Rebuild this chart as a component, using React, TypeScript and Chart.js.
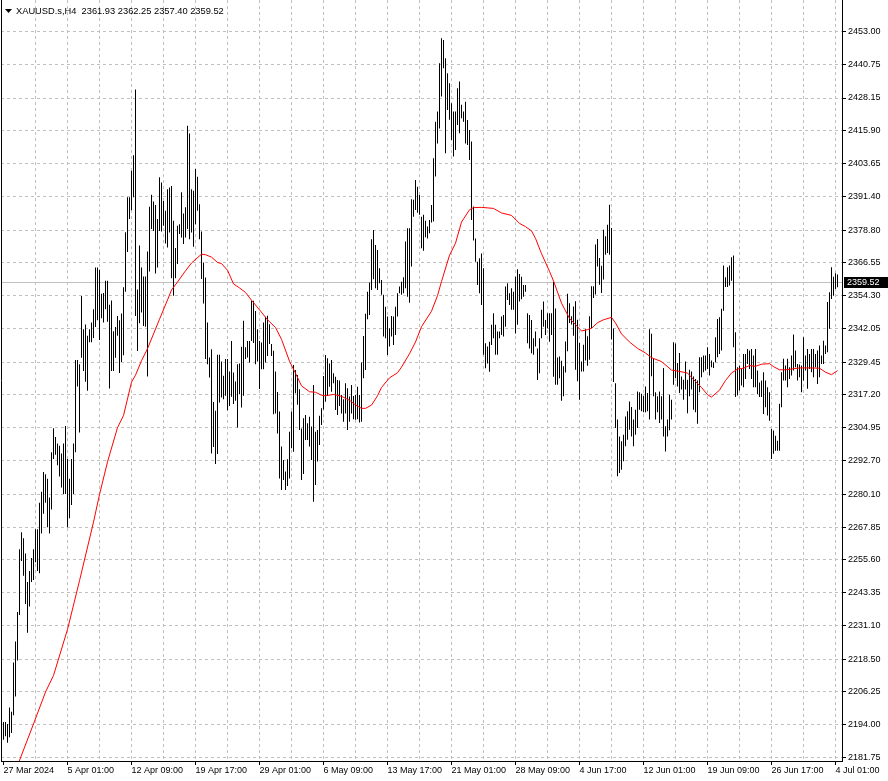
import React, { useEffect, useRef } from 'react';
import { Chart, registerables } from 'chart.js';

Chart.register(...registerables);

const symbolTitle = 'XAUUSD.s,H4';
const lastBarOHLC = [2361.93, 2362.25, 2357.4, 2359.52];
const bidPrice = 2359.52;

const highs = [
  2195.0, 2195.0, 2194.3, 2200.4, 2198.8, 2217.2, 2225.1, 2236.1, 2259.6, 2265.9,
  2263.7, 2258.0, 2247.3, 2251.4, 2256.3, 2259.6, 2267.0, 2267.0, 2276.9, 2281.0,
  2288.4, 2287.6, 2285.9, 2278.9, 2295.8, 2304.8, 2301.5, 2299.1, 2298.2, 2295.3,
  2299.1, 2305.6, 2293.3, 2285.9, 2293.3, 2299.1, 2330.3, 2330.3, 2328.7, 2354.2,
  2341.8, 2343.5, 2339.3, 2341.8, 2344.3, 2349.2, 2364.8, 2364.8, 2364.0, 2355.0,
  2355.3, 2359.9, 2359.9, 2350.9, 2352.5, 2341.0, 2342.6, 2346.7, 2345.1, 2347.6,
  2357.4, 2378.0, 2391.1, 2391.1, 2401.0, 2406.8, 2431.3, 2356.6, 2373.0, 2364.8,
  2361.5, 2361.5, 2370.8, 2387.5, 2392.0, 2389.5, 2388.2, 2382.9, 2398.5, 2396.6,
  2389.7, 2386.0, 2394.1, 2394.7, 2395.3, 2382.3, 2372.1, 2380.4, 2381.0, 2392.9,
  2385.0, 2387.3, 2417.8, 2414.9, 2394.1, 2393.5, 2401.6, 2398.7, 2388.5, 2378.3,
  2366.7, 2361.1, 2344.3, 2331.2, 2334.3, 2314.6, 2311.3, 2332.2, 2332.2, 2329.7,
  2324.4, 2330.6, 2330.6, 2326.0, 2337.4, 2325.6, 2322.2, 2328.7, 2329.0, 2335.2,
  2344.9, 2335.0, 2337.4, 2337.4, 2352.4, 2352.4, 2348.6, 2341.8, 2337.4, 2336.8,
  2344.3, 2346.4, 2346.8, 2343.6, 2336.2, 2333.7, 2326.0, 2318.3, 2311.0, 2297.9,
  2292.9, 2288.6, 2293.2, 2303.5, 2311.0, 2328.4, 2326.5, 2324.7, 2319.3, 2304.7,
  2308.5, 2309.7, 2306.6, 2309.1, 2305.4, 2320.9, 2303.5, 2304.1, 2309.4, 2312.2,
  2324.3, 2332.1, 2330.9, 2329.0, 2330.3, 2325.3, 2324.0, 2322.8, 2322.6, 2317.2,
  2315.6, 2321.6, 2319.7, 2316.6, 2320.9, 2316.8, 2317.2, 2320.3, 2317.2, 2329.3,
  2339.2, 2347.5, 2355.8, 2359.2, 2375.4, 2378.8, 2373.2, 2371.4, 2364.5, 2360.2,
  2354.6, 2350.2, 2346.5, 2342.1, 2346.7, 2346.5, 2350.2, 2355.2, 2357.7, 2359.5,
  2361.2, 2374.5, 2379.5, 2379.5, 2390.3, 2390.1, 2397.5, 2395.0, 2391.9, 2383.8,
  2384.5, 2382.3, 2380.1, 2382.6, 2388.2, 2405.6, 2419.3, 2423.1, 2441.1, 2450.5,
  2449.8, 2443.0, 2437.4, 2433.7, 2426.2, 2423.1, 2423.1, 2431.8, 2434.3, 2425.6,
  2423.1, 2426.8, 2419.9, 2416.2, 2411.9, 2387.6, 2375.7, 2367.0, 2368.3, 2370.1,
  2364.5, 2336.5, 2335.3, 2337.1, 2343.4, 2347.7, 2343.4, 2340.9, 2340.9, 2346.5,
  2347.1, 2357.7, 2358.9, 2355.2, 2357.1, 2355.8, 2361.4, 2364.2, 2362.4, 2361.4,
  2358.3, 2358.3, 2347.7, 2347.1, 2345.2, 2338.4, 2340.9, 2334.6, 2338.4, 2349.0,
  2352.1, 2345.2, 2347.7, 2347.7, 2347.7, 2359.5, 2349.5, 2331.2, 2331.6, 2330.0,
  2327.9, 2337.2, 2355.0, 2351.5, 2346.6, 2350.3, 2352.2, 2345.3, 2336.6, 2329.7,
  2336.0, 2341.8, 2339.1, 2346.6, 2357.8, 2357.8, 2373.4, 2375.5, 2368.4, 2365.5,
  2378.9, 2376.5, 2380.8, 2388.3, 2379.6, 2342.0, 2321.6, 2308.0, 2301.7, 2299.9,
  2302.3, 2309.2, 2311.1, 2314.8, 2312.7, 2308.0, 2311.7, 2318.5, 2318.2, 2317.7,
  2316.9, 2320.4, 2317.9, 2341.8, 2340.1, 2331.0, 2318.2, 2316.7, 2318.5, 2316.7,
  2327.3, 2305.5, 2308.0, 2317.3, 2315.4, 2336.9, 2336.4, 2329.1, 2332.9, 2324.1,
  2322.9, 2329.7, 2322.9, 2326.6, 2326.0, 2324.1, 2323.2, 2322.6, 2331.3, 2331.3,
  2331.9, 2331.9, 2335.0, 2332.5, 2330.1, 2329.4, 2338.8, 2345.6, 2346.2, 2349.4,
  2365.6, 2361.2, 2364.9, 2365.6, 2368.7, 2369.3, 2340.6, 2327.6, 2328.2, 2326.9,
  2332.5, 2332.5, 2334.4, 2333.8, 2334.4, 2331.9, 2334.4, 2326.3, 2321.9, 2322.6,
  2325.7, 2322.6, 2320.1, 2318.2, 2304.5, 2303.9, 2302.0, 2300.1, 2313.9, 2325.7,
  2330.7, 2328.2, 2330.7, 2327.6, 2331.9, 2339.8, 2333.8, 2328.8, 2328.6, 2328.2,
  2338.8, 2331.9, 2334.4, 2332.5, 2334.4, 2334.4, 2332.5, 2333.8, 2335.7, 2331.9,
  2337.5, 2335.7, 2351.9, 2355.6, 2364.9, 2361.4, 2362.7, 2362.25,
];

const lows = [
  2188.4, 2189.7, 2187.3, 2189.3, 2190.9, 2197.5, 2204.5, 2218.0, 2235.0, 2255.2,
  2249.7, 2239.1, 2228.4, 2238.2, 2247.3, 2248.1, 2254.7, 2251.4, 2250.6, 2265.4,
  2272.8, 2276.9, 2267.8, 2265.4, 2274.4, 2293.3, 2294.9, 2290.9, 2286.7, 2282.6,
  2280.2, 2280.2, 2267.8, 2271.1, 2276.1, 2280.2, 2295.8, 2320.4, 2303.2, 2331.1,
  2326.2, 2322.1, 2318.8, 2336.9, 2336.9, 2338.5, 2342.6, 2345.1, 2337.7, 2345.9,
  2344.3, 2349.2, 2344.6, 2319.6, 2326.2, 2326.2, 2331.1, 2339.3, 2325.4, 2329.5,
  2332.0, 2355.8, 2370.6, 2382.9, 2386.2, 2391.1, 2346.7, 2333.6, 2344.0, 2348.0,
  2343.0, 2342.7, 2324.1, 2363.3, 2379.2, 2378.5, 2362.6, 2364.8, 2378.5, 2378.3,
  2380.4, 2373.8, 2372.3, 2377.9, 2360.8, 2354.3, 2360.8, 2366.1, 2377.3, 2376.0,
  2373.6, 2376.0, 2379.2, 2375.4, 2377.9, 2372.6, 2381.0, 2386.0, 2375.4, 2360.5,
  2351.4, 2330.6, 2328.7, 2323.7, 2295.3, 2297.8, 2291.4, 2295.1, 2314.4, 2316.3,
  2315.6, 2316.9, 2311.5, 2313.1, 2316.5, 2313.8, 2315.0, 2305.0, 2317.5, 2312.5,
  2316.9, 2330.6, 2331.2, 2329.3, 2337.4, 2336.6, 2328.7, 2329.7, 2319.4, 2326.8,
  2326.8, 2329.3, 2331.8, 2336.2, 2331.8, 2310.0, 2310.3, 2302.8, 2286.0, 2281.7,
  2285.4, 2281.7, 2283.2, 2286.0, 2297.3, 2296.0, 2317.8, 2313.5, 2304.1, 2285.4,
  2287.7, 2300.4, 2300.4, 2297.9, 2292.9, 2277.3, 2283.6, 2292.3, 2298.5, 2306.0,
  2311.8, 2314.7, 2316.8, 2320.3, 2318.4, 2321.6, 2311.6, 2309.7, 2313.1, 2310.3,
  2307.2, 2310.3, 2304.1, 2307.2, 2310.3, 2308.1, 2307.9, 2308.1, 2306.9, 2307.2,
  2323.4, 2326.5, 2345.5, 2347.1, 2356.4, 2360.4, 2357.1, 2356.4, 2358.9, 2354.6,
  2339.0, 2338.4, 2332.1, 2335.3, 2339.0, 2335.9, 2339.6, 2346.5, 2355.2, 2354.6,
  2355.2, 2357.1, 2353.9, 2351.7, 2365.2, 2383.8, 2386.3, 2385.3, 2384.5, 2372.0,
  2371.1, 2376.1, 2375.7, 2377.6, 2381.6, 2382.0, 2398.8, 2411.2, 2416.8, 2428.7,
  2439.3, 2407.5, 2423.7, 2420.0, 2412.5, 2406.3, 2408.7, 2418.1, 2415.0, 2420.6,
  2419.3, 2411.2, 2410.6, 2405.0, 2382.6, 2374.9, 2367.0, 2358.3, 2355.2, 2350.8,
  2332.2, 2327.2, 2329.0, 2325.9, 2335.9, 2338.4, 2332.2, 2332.2, 2338.4, 2339.6,
  2339.0, 2342.7, 2352.7, 2350.8, 2349.0, 2349.0, 2340.2, 2343.4, 2352.1, 2353.0,
  2353.9, 2355.8, 2336.5, 2334.6, 2332.8, 2332.2, 2335.3, 2322.8, 2325.3, 2338.4,
  2342.7, 2339.6, 2342.1, 2337.1, 2339.6, 2324.0, 2321.0, 2321.0, 2323.4, 2315.0,
  2316.7, 2325.6, 2333.5, 2344.1, 2343.5, 2339.3, 2326.6, 2322.3, 2315.4, 2326.0,
  2326.0, 2330.1, 2328.1, 2330.4, 2342.2, 2353.4, 2354.7, 2365.2, 2358.4, 2355.3,
  2360.3, 2369.6, 2370.2, 2369.6, 2337.9, 2322.0, 2304.9, 2286.8, 2288.0, 2289.3,
  2292.4, 2298.0, 2300.5, 2304.2, 2301.7, 2298.0, 2302.3, 2304.9, 2311.7, 2311.1,
  2310.7, 2310.7, 2311.1, 2308.0, 2324.2, 2316.7, 2308.0, 2310.7, 2306.7, 2308.0,
  2301.7, 2296.1, 2301.7, 2304.0, 2308.0, 2321.0, 2323.5, 2320.4, 2317.9, 2319.2,
  2315.4, 2319.2, 2310.4, 2316.7, 2319.2, 2311.7, 2310.7, 2306.4, 2318.2, 2323.8,
  2325.7, 2326.3, 2326.9, 2324.5, 2327.6, 2327.3, 2329.4, 2331.3, 2332.5, 2333.8,
  2348.7, 2357.5, 2357.5, 2358.1, 2359.9, 2335.0, 2316.4, 2317.0, 2318.9, 2320.7,
  2320.1, 2323.2, 2328.8, 2326.9, 2323.2, 2320.1, 2320.1, 2317.6, 2316.4, 2316.4,
  2310.1, 2312.6, 2309.5, 2307.6, 2293.3, 2295.2, 2296.4, 2296.4, 2296.4, 2312.6,
  2322.6, 2322.6, 2320.1, 2323.2, 2324.5, 2326.3, 2327.6, 2322.6, 2323.8, 2318.2,
  2322.6, 2326.3, 2319.5, 2326.9, 2325.7, 2323.8, 2327.6, 2321.3, 2323.8, 2328.8,
  2328.8, 2332.5, 2333.2, 2341.9, 2353.1, 2354.3, 2356.8, 2357.4,
];

const maBars = [
  7, 15, 21, 25, 32, 38, 45, 48, 52, 57, 60, 64, 66, 69, 72, 78, 82, 84, 87, 91,
  94, 99, 101, 104, 107, 109, 112, 115, 118, 121, 124, 128, 132, 136, 139, 143, 146, 149, 153, 156,
  159, 161, 165, 169, 173, 176, 179, 181, 184, 187, 189, 193, 197, 199, 203, 206, 209, 214, 217, 219,
  223, 226, 229, 233, 235, 239, 245, 249, 254, 258, 261, 264, 266, 269, 273, 275, 279, 283, 286, 289,
  292, 294, 297, 300, 304, 306, 309, 313, 317, 321, 324, 329, 334, 338, 342, 345, 349, 352, 354, 358,
  361, 364, 367, 370, 373, 376, 379, 383, 385, 388, 391, 394, 398, 403, 408, 411, 414, 417,
];

const maValues = [
  2178.7, 2194.3, 2206.2, 2212.4, 2229.6, 2247.8, 2269.7, 2280.0, 2292.2, 2305.0,
  2309.5, 2322.0, 2324.6, 2330.0, 2334.5, 2345.5, 2352.7, 2356.4, 2359.4, 2363.6,
  2366.5, 2369.8, 2369.6, 2368.7, 2366.7, 2366.3, 2363.8, 2358.7, 2357.2, 2355.5,
  2352.6, 2349.0, 2345.3, 2342.4, 2338.0, 2329.8, 2325.3, 2320.6, 2318.4, 2318.2,
  2317.1, 2316.9, 2317.4, 2316.7, 2315.2, 2313.5, 2312.2, 2312.2, 2313.4, 2316.9,
  2320.0, 2323.6, 2325.5, 2327.6, 2332.6, 2337.0, 2342.7, 2348.5, 2354.3, 2359.6,
  2369.4, 2373.9, 2381.8, 2386.4, 2387.2, 2387.3, 2386.9, 2385.2, 2384.3, 2381.3,
  2380.1, 2378.5, 2375.7, 2370.0, 2363.4, 2359.8, 2351.5, 2345.8, 2343.5, 2341.1,
  2341.6, 2342.1, 2344.2, 2345.3, 2346.2, 2344.1, 2340.0, 2337.0, 2334.6, 2332.9,
  2331.1, 2329.7, 2326.5, 2326.0, 2325.4, 2323.0, 2320.0, 2317.3, 2316.4, 2319.0,
  2322.6, 2325.4, 2326.9, 2327.2, 2328.2, 2327.9, 2328.7, 2328.9, 2327.8, 2326.6,
  2326.6, 2326.9, 2327.3, 2327.3, 2327.2, 2325.7, 2324.8, 2326.3,
];

const gridBars = [
  0, 16, 32, 48, 64, 80, 96, 112, 128, 144, 160, 176, 192, 208,
  224, 240, 256, 272, 288, 304, 320, 336, 352, 368, 384, 400, 416,
];
const labelBars = [0, 32, 64, 96, 128, 160, 192, 224, 256, 288, 320, 352, 384, 416];
const xTickLabels = [
  '27 Mar 2024', '5 Apr 01:00', '12 Apr 09:00', '19 Apr 17:00', '29 Apr 01:00',
  '6 May 09:00', '13 May 17:00', '21 May 01:00', '28 May 09:00', '4 Jun 17:00',
  '12 Jun 01:00', '19 Jun 09:00', '26 Jun 17:00', '4 Jul 01:00',
];
const yTickValues = [
  2453.0, 2440.75, 2428.15, 2415.9, 2403.65, 2391.4, 2378.8, 2366.55, 2354.3, 2342.05,
  2329.45, 2317.2, 2304.95, 2292.7, 2280.1, 2267.85, 2255.6, 2243.35, 2231.1, 2218.5,
  2206.25, 2194.0, 2181.75,
];

const FONT = 'Liberation Sans, Arial, sans-serif';
const GRID = '#c0c0c0';
const CLEAR = 'rgba(0,0,0,0)';

const overlayPlugin = {
  id: 'mtOverlay',
  beforeDatasetsDraw(chart: any) {
    const { ctx, chartArea, scales } = chart;
    const y = Math.round(scales.y.getPixelForValue(bidPrice)) + 0.5;
    ctx.save();
    ctx.strokeStyle = '#c0c0c0';
    ctx.lineWidth = 1;
    ctx.beginPath();
    ctx.moveTo(chartArea.left, y);
    ctx.lineTo(chartArea.right, y);
    ctx.stroke();
    ctx.restore();
  },
  afterDraw(chart: any) {
    const { ctx, chartArea, scales, width } = chart;
    ctx.save();
    // left frame line
    ctx.strokeStyle = '#000';
    ctx.lineWidth = 1;
    ctx.beginPath();
    ctx.moveTo(chartArea.left + 0.5, chartArea.top);
    ctx.lineTo(chartArea.left + 0.5, chartArea.bottom);
    ctx.stroke();

    // title
    ctx.fillStyle = '#000';
    ctx.beginPath();
    ctx.moveTo(5, 9);
    ctx.lineTo(12, 9);
    ctx.lineTo(8.5, 13);
    ctx.closePath();
    ctx.fill();
    ctx.font = `9.3px ${FONT}`;
    ctx.textBaseline = 'alphabetic';
    ctx.textAlign = 'left';
    const title = `${symbolTitle}  ${lastBarOHLC.map((v) => v.toFixed(2)).join(' ')}`;
    ctx.fillText(title, 16, 14);

    // bid price box on the price axis
    const yb = Math.round(scales.y.getPixelForValue(bidPrice));
    ctx.fillStyle = '#000';
    ctx.fillRect(chartArea.right + 2, yb - 5, width - chartArea.right - 2, 11);
    ctx.fillStyle = '#fff';
    ctx.font = `9px ${FONT}`;
    ctx.textBaseline = 'middle';
    ctx.fillText(bidPrice.toFixed(2), chartArea.right + 5, yb + 0.5);
    ctx.restore();
  },
};

export default function App() {
  const ref = useRef<HTMLCanvasElement | null>(null);

  useEffect(() => {
    document.body.style.margin = '0';
    const canvas = ref.current;
    if (!canvas) return;

    const barData = highs.map((h, i) => ({ x: i, y: [lows[i], h] }));
    const maData = maBars.map((b, k) => ({ x: b, y: maValues[k] }));

    const chart = new Chart(canvas, {
      type: 'bar',
      data: {
        datasets: [
          {
            type: 'line',
            data: maData,
            borderColor: '#ff0000',
            borderWidth: 1,
            pointRadius: 0,
            tension: 0,
            fill: false,
            order: 0,
          } as any,
          {
            type: 'bar',
            data: barData,
            backgroundColor: '#000000',
            borderWidth: 0,
            barThickness: 1,
            grouped: false,
            inflateAmount: 0,
            order: 1,
          } as any,
        ],
      },
      options: {
        animation: false,
        responsive: false,
        devicePixelRatio: 1,
        events: [],
        layout: { padding: { left: 1, top: 0, right: 0, bottom: 0 } },
        plugins: {
          legend: { display: false },
          tooltip: { enabled: false },
          title: { display: false },
        },
        scales: {
          x: {
            type: 'linear',
            position: 'bottom',
            min: -1.25,
            max: 419.25,
            bounds: 'data',
            offset: false,
            afterBuildTicks: (s: any) => {
              s.ticks = gridBars.map((v) => ({ value: v }));
            },
            afterFit: (s: any) => {
              s.height = 20;
              s.paddingLeft = 0;
              s.paddingRight = 0;
            },
            ticks: {
              autoSkip: false,
              maxRotation: 0,
              minRotation: 0,
              align: 'start',
              padding: 0,
              color: '#000',
              font: { family: FONT, size: 9 },
              callback: (v: any) => {
                const k = labelBars.indexOf(Number(v));
                return k >= 0 ? xTickLabels[k] : '';
              },
            },
            grid: {
              offset: false,
              drawOnChartArea: true,
              lineWidth: 1,
              color: (c: any) => (c.tick && c.tick.value === 0 ? CLEAR : GRID),
              tickColor: (c: any) => (c.tick && labelBars.includes(c.tick.value) ? '#000' : CLEAR),
              tickLength: 4,
            },
            border: { display: true, color: '#000', width: 1, dash: [3, 3] },
          } as any,
          y: {
            type: 'linear',
            position: 'right',
            min: 2180.44,
            max: 2464.77,
            bounds: 'data',
            afterBuildTicks: (s: any) => {
              s.ticks = yTickValues.map((v) => ({ value: v }));
            },
            afterFit: (s: any) => {
              s.width = 46;
              s.paddingTop = 0;
              s.paddingBottom = 0;
            },
            ticks: {
              padding: 2,
              color: '#000',
              font: { family: FONT, size: 9 },
              callback: (v: any) => Number(v).toFixed(2),
            },
            grid: {
              lineWidth: 1,
              color: GRID,
              tickColor: '#000',
              tickLength: 4,
            },
            border: { display: true, color: '#000', width: 1, dash: [3, 3] },
          } as any,
        },
      } as any,
      plugins: [overlayPlugin as any],
    });

    return () => chart.destroy();
  }, []);

  return (
    <div style={{ width: 888, height: 781, background: '#fff' }}>
      <canvas ref={ref} width={888} height={781} style={{ display: 'block' }} />
    </div>
  );
}
